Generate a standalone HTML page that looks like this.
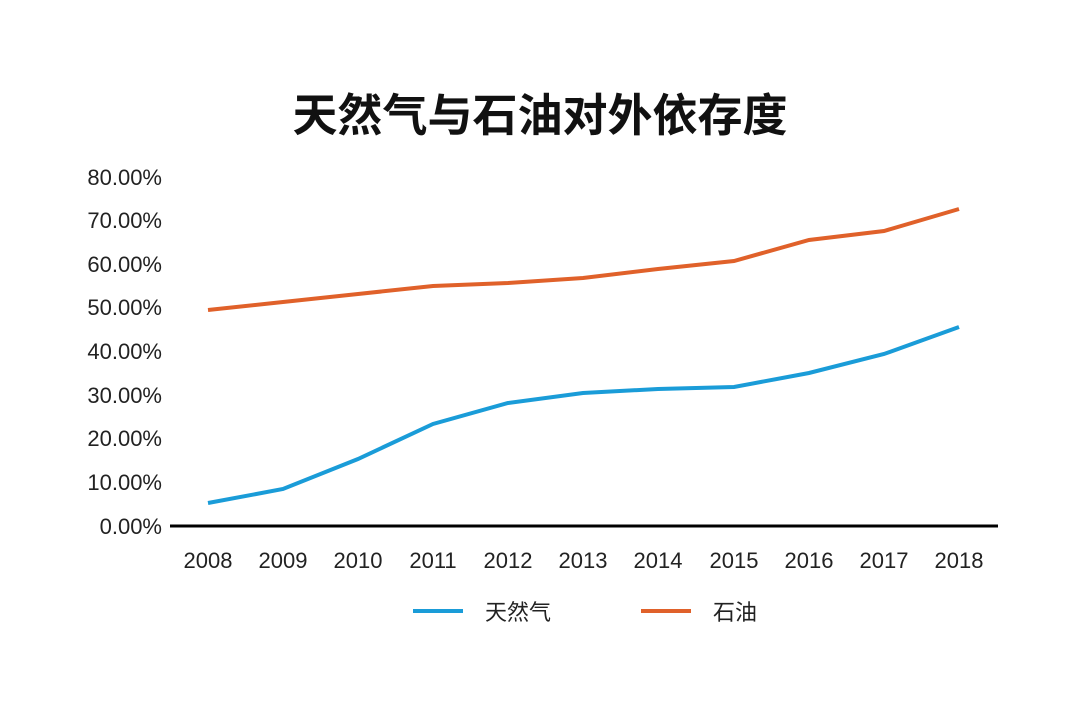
<!DOCTYPE html>
<html><head><meta charset="utf-8"><style>
html,body{margin:0;padding:0;background:#fff;}
svg{display:block}
</style></head><body>
<svg width="1080" height="709" xmlns="http://www.w3.org/2000/svg" font-family="Liberation Sans, Noto Sans CJK SC, sans-serif">
<rect width="1080" height="709" fill="#fff"/>
<text x="540" y="131" text-anchor="middle" font-size="45" font-weight="bold" fill="#111" font-family="Noto Sans CJK SC, sans-serif">天然气与石油对外依存度</text>
<g font-size="22" fill="#222" text-anchor="end">
<text x="162" y="185">80.00%</text>
<text x="162" y="228">70.00%</text>
<text x="162" y="272">60.00%</text>
<text x="162" y="315">50.00%</text>
<text x="162" y="359">40.00%</text>
<text x="162" y="403">30.00%</text>
<text x="162" y="446">20.00%</text>
<text x="162" y="490">10.00%</text>
<text x="162" y="534">0.00%</text>
</g>
<line x1="170" y1="526" x2="998" y2="526" stroke="#000" stroke-width="3"/>
<g font-size="22" fill="#222" text-anchor="middle">
<text x="208" y="568">2008</text><text x="283" y="568">2009</text><text x="358" y="568">2010</text>
<text x="433" y="568">2011</text><text x="508" y="568">2012</text><text x="583" y="568">2013</text>
<text x="658" y="568">2014</text><text x="734" y="568">2015</text><text x="809" y="568">2016</text>
<text x="884" y="568">2017</text><text x="959" y="568">2018</text>
</g>
<polyline fill="none" stroke="#1a9cd8" stroke-width="4" points="208,503 283,489 358,459 433,424 508,403 583,393 658,389 734,387 809,373 884,354 959,327"/>
<polyline fill="none" stroke="#e0612a" stroke-width="4" points="208,310 283,302 358,294 433,286 508,283 583,278 658,269 734,261 809,240 884,231 959,209"/>
<line x1="413" y1="611" x2="463" y2="611" stroke="#1a9cd8" stroke-width="4"/>
<text x="485" y="620" font-size="22" fill="#222" font-family="Noto Sans CJK SC, sans-serif">天然气</text>
<line x1="641" y1="611" x2="691" y2="611" stroke="#e0612a" stroke-width="4"/>
<text x="713" y="620" font-size="22" fill="#222" font-family="Noto Sans CJK SC, sans-serif">石油</text>
</svg>
</body></html>
